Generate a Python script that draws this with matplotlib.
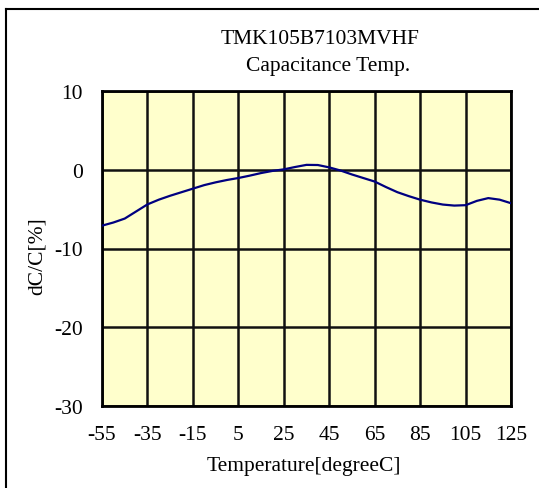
import matplotlib
matplotlib.use('Agg')
import matplotlib.pyplot as plt
from matplotlib.lines import Line2D

# values (every 5 degC)
temps = list(range(-55, 130, 5))
dcc = [-7.1, -6.7, -6.2, -5.3, -4.4, -3.8, -3.3, -2.85, -2.4, -1.95,
       -1.6, -1.3, -1.05, -0.75, -0.42, -0.15, 0.05, 0.35, 0.62, 0.6,
       0.3, -0.1, -0.6, -1.05, -1.5, -2.2, -2.85, -3.35, -3.8, -4.15,
       -4.42, -4.55, -4.5, -3.95, -3.6, -3.8, -4.25]
xticks = [-55, -35, -15, 5, 25, 45, 65, 85, 105, 125]
yticks = [10, 0, -10, -20, -30]

plt.rcParams['font.family'] = ['Liberation Serif', 'DejaVu Serif']
fs = 15.5

W, H = 539, 489
fig = plt.figure(figsize=(W / 100, H / 100), dpi=100)
ax = fig.add_axes([102 / W, 1 - 407 / H, (511 - 102) / W, (407 - 92) / H])
ax.set_facecolor('#ffffcc')

ax.plot(temps, dcc, color='#000080', lw=1.6, zorder=3)

ax.set_xlim(-55, 125)
ax.set_ylim(-30, 10)
ax.set_xticks(xticks)
ax.set_yticks(yticks)
ax.set_xticklabels([str(t) for t in xticks], fontsize=fs)
ax.set_yticklabels([str(t) for t in yticks], fontsize=fs)
ax.tick_params(length=0, pad=14)
ax.tick_params(axis='x', pad=14)
ax.grid(True, color='#111111', lw=1.8)
for s in ax.spines.values():
    s.set_color('black')
    s.set_linewidth(2)

fig.text(320 / W, 1 - 40 / H, 'TMK105B7103MVHF', ha='center', va='center', fontsize=fs)
fig.text(328 / W, 1 - 66 / H, 'Capacitance Temp.', ha='center', va='center', fontsize=fs)
fig.text(304 / W, 1 - 467 / H, 'Temperature[degreeC]', ha='center', va='center', fontsize=fs)
fig.text(37 / W, 1 - 256 / H, 'dC/C[%]', ha='center', va='center', rotation=90, fontsize=fs)

# outer frame (cropped at right and bottom)
fig.add_artist(Line2D([6 / W, 6 / W], [0, 1 - 10 / H], color='black', lw=1.5))
fig.add_artist(Line2D([6 / W, 1], [1 - 10 / H, 1 - 10 / H], color='black', lw=1.5))

fig.savefig('out.png', dpi=100)
